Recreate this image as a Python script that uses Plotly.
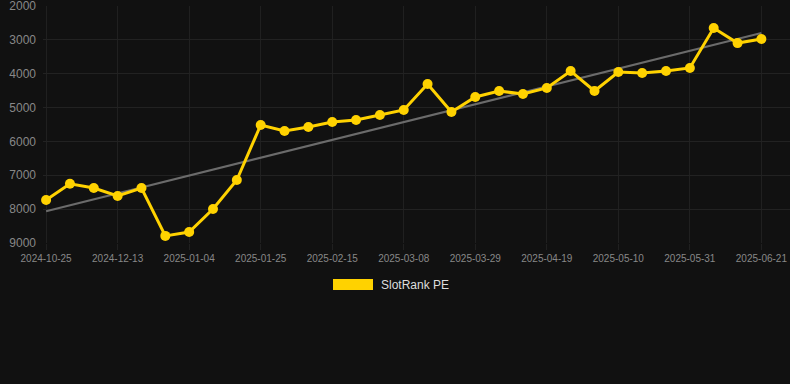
import numpy as np
import plotly.graph_objects as go

dates = ["2024-10-25", "2024-11-08", "2024-11-29", "2024-12-13", "2024-12-20", "2024-12-28",
         "2025-01-04", "2025-01-11", "2025-01-18", "2025-01-25", "2025-02-01", "2025-02-08",
         "2025-02-15", "2025-02-22", "2025-03-01", "2025-03-08", "2025-03-15", "2025-03-22",
         "2025-03-29", "2025-04-05", "2025-04-12", "2025-04-19", "2025-04-26", "2025-05-03",
         "2025-05-10", "2025-05-17", "2025-05-24", "2025-05-31", "2025-06-07", "2025-06-14",
         "2025-06-21"]
rank = [7730, 7250, 7375, 7610, 7375, 8790, 8675, 7995, 7140, 5515, 5690, 5575,
        5425, 5365, 5220, 5070, 4305, 5130, 4685, 4510, 4600, 4420, 3920, 4510,
        3950, 3980, 3920, 3830, 2650, 3095, 2975]
tick_labels = dates[::3]
y_ticks = [2000, 3000, 4000, 5000, 6000, 7000, 8000, 9000]

idx = np.arange(len(rank))
slope, intercept = np.polyfit(idx, rank, 1)
trend = slope * idx + intercept

fig = go.Figure()
fig.add_trace(go.Scatter(x=dates, y=trend, mode="lines",
                         line=dict(color="#6b6b6b", width=2), showlegend=False,
                         hoverinfo="skip", cliponaxis=False))
fig.add_trace(go.Scatter(x=dates, y=rank, mode="lines+markers", name="SlotRank PE",
                         line=dict(color="#FFD200", width=3),
                         marker=dict(color="#FFD200", size=10), showlegend=False,
                         cliponaxis=False))

fig.update_layout(
    width=790, height=384,
    paper_bgcolor="#111111", plot_bgcolor="#111111",
    margin=dict(l=43, r=0, t=6, b=141),
    font=dict(family="Arial, Liberation Sans, sans-serif", color="#888888"),
    xaxis=dict(type="category", range=[-0.13, 31.2], tickmode="array",
               tickvals=tick_labels, ticktext=tick_labels,
               tickfont=dict(size=10, color="#888888"),
               showgrid=True, gridcolor="#202020", gridwidth=1,
               zeroline=False, showline=False, ticks="outside", ticklen=6,
               tickcolor="#202020", ticklabeloverflow="allow"),
    yaxis=dict(range=[9000, 1999.5], tickvals=y_ticks,
               tickfont=dict(size=12, color="#888888"),
               showgrid=True, gridcolor="#222222", gridwidth=1,
               zeroline=False, showline=False, ticks="", ticklabelstandoff=6,
               ticklabeloverflow="allow"),
)

fig.add_shape(type="rect", xref="paper", yref="paper",
              x0=(333 - 43) / 747, x1=(373 - 43) / 747,
              y0=(243 - 290) / 237, y1=(243 - 279) / 237,
              fillcolor="#FFD200", line=dict(width=0))
fig.add_annotation(text="SlotRank PE", xref="paper", yref="paper",
                   x=(379 - 43) / 747, y=(243 - 284.5) / 237, xanchor="left",
                   yanchor="middle", showarrow=False,
                   font=dict(size=12, color="#dddddd"))

fig.write_html("out.html", config={"displayModeBar": False})
with open("out.html", encoding="utf-8") as f:
    html = f.read()
html = html.replace("<head>", "<head><style>html,body{margin:0;padding:0;background:#111111;overflow:hidden}</style>", 1)
with open("out.html", "w", encoding="utf-8") as f:
    f.write(html)
